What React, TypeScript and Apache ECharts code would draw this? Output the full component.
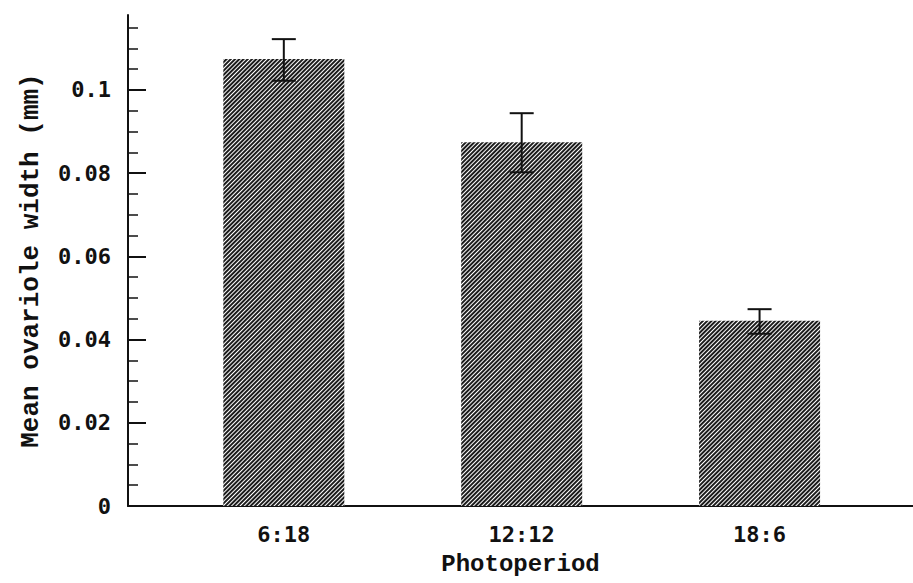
import React, { useEffect, useRef } from "react";
import * as echarts from "echarts";

// ---- data ----
const CATEGORIES = ["6:18", "12:12", "18:6"];
const CATEGORY_POS = [1, 2, 3];
const MEANS = [0.1074, 0.0874, 0.0445];
const ERR_HIGH = [0.1122, 0.0944, 0.0473];
const ERR_LOW = [0.1022, 0.0802, 0.0414];
const MAJOR_TICKS = [0, 0.02, 0.04, 0.06, 0.08, 0.1];
const MINOR_TICKS = [
  0.005, 0.01, 0.015, 0.025, 0.03, 0.035, 0.045, 0.05, 0.055, 0.065, 0.07, 0.075,
  0.085, 0.09, 0.095, 0.105, 0.11, 0.115,
];
const Y_MAX = 0.118;
const X_MIN = 0.345;
const X_MAX = 3.645;

export default function App() {
  const ref = useRef<HTMLDivElement>(null);
  useEffect(() => {
    if (!ref.current) return;
    const chart = echarts.init(ref.current, null, { renderer: "svg" });
    const ink = "#111111";
    const barData = CATEGORY_POS.map((x, i) => [x, MEANS[i]]);
    const errData = CATEGORY_POS.map((x, i) => [x, ERR_LOW[i], ERR_HIGH[i]]);
    chart.setOption({
      animation: false,
      backgroundColor: "#ffffff",
      grid: { left: 128, right: 0, top: 15, bottom: 77, containLabel: false },
      xAxis: {
        type: "value",
        min: X_MIN,
        max: X_MAX,
        splitLine: { show: false },
        axisLine: { show: true, lineStyle: { color: ink, width: 2 } },
        axisTick: { show: false },
        axisLabel: {
          customValues: CATEGORY_POS,
          formatter: (v: number) => CATEGORIES[Math.round(v) - 1] ?? "",
          color: ink,
          fontFamily: "DejaVu Sans Mono",
          fontWeight: "bold",
          fontSize: 22,
          margin: 17,
        },
        name: "Photoperiod",
        nameLocation: "middle",
        nameGap: 46,
        nameTextStyle: {
          color: ink,
          fontFamily: "Liberation Mono",
          fontWeight: "bold",
          fontSize: 24,
        },
      },
      yAxis: [
        {
          type: "value",
          min: 0,
          max: Y_MAX,
          splitLine: { show: false },
          axisLine: { show: true, lineStyle: { color: ink, width: 2 } },
          axisTick: {
            show: true,
            inside: true,
            length: 18,
            customValues: MAJOR_TICKS,
            lineStyle: { color: ink, width: 2 },
          },
          axisLabel: {
            customValues: MAJOR_TICKS,
            formatter: (v: number) => String(v),
            color: ink,
            fontFamily: "DejaVu Sans Mono",
            fontWeight: "bold",
            fontSize: 22,
            margin: 17,
          },
          name: "Mean ovariole width (mm)",
          nameLocation: "middle",
          nameGap: 84,
          nameTextStyle: {
            color: ink,
            fontFamily: "Liberation Mono",
            fontWeight: "bold",
            fontSize: 26,
          },
        },
        {
          type: "value",
          min: 0,
          max: Y_MAX,
          position: "left",
          splitLine: { show: false },
          axisLine: { show: false },
          axisLabel: { show: false },
          axisTick: {
            show: true,
            inside: true,
            length: 10,
            customValues: MINOR_TICKS,
            lineStyle: { color: ink, width: 1.5 },
          },
        },
      ],
      series: [
        {
          type: "bar",
          data: barData,
          barWidth: 121,
          itemStyle: {
            color: "#ffffff",
            decal: {
              symbol: "rect",
              symbolSize: 1,
              color: "#1c1c1c",
              dashArrayX: [1, 0],
              dashArrayY: [2, 1],
              rotation: -Math.PI / 4,
            },
          },
        },
        {
          type: "custom",
          data: errData,
          z: 5,
          renderItem: (params: any, api: any) => {
            const x = api.value(0);
            const lo = api.coord([x, api.value(1)]);
            const hi = api.coord([x, api.value(2)]);
            const cap = 12;
            const style = { stroke: ink, lineWidth: 2 };
            return {
              type: "group",
              children: [
                { type: "line", shape: { x1: hi[0], y1: hi[1], x2: lo[0], y2: lo[1] }, style },
                { type: "line", shape: { x1: hi[0] - cap, y1: hi[1], x2: hi[0] + cap, y2: hi[1] }, style },
                { type: "line", shape: { x1: lo[0] - cap, y1: lo[1], x2: lo[0] + cap, y2: lo[1] }, style },
              ],
            };
          },
        },
      ],
    });
    return () => chart.dispose();
  }, []);
  return (
    <div
      ref={ref}
      style={{ position: "fixed", left: 0, top: 0, width: 913, height: 583, background: "#fff" }}
    />
  );
}
